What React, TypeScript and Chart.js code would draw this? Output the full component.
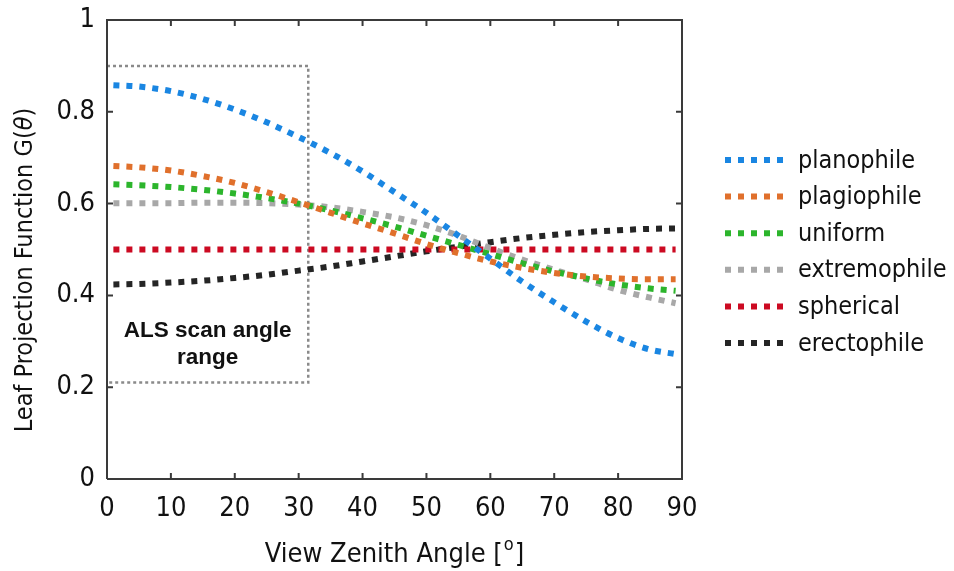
import { useEffect, useRef } from 'react';
import { Chart, registerables } from 'chart.js';

Chart.register(...registerables);

// View zenith angles (degrees) at which G(θ) is sampled
const ANGLES = [1, 5, 10, 15, 20, 25, 30, 35, 40, 45, 50, 55, 60, 65, 70, 75, 80, 85, 89];

// Leaf projection function per leaf angle distribution
const PLANOPHILE = [0.858, 0.855, 0.845, 0.828, 0.805, 0.777, 0.745, 0.71, 0.67, 0.625, 0.58, 0.53, 0.48, 0.43, 0.385, 0.343, 0.307, 0.282, 0.272];
const PLAGIOPHILE = [0.682, 0.679, 0.672, 0.66, 0.645, 0.625, 0.603, 0.58, 0.557, 0.535, 0.512, 0.492, 0.474, 0.46, 0.449, 0.441, 0.437, 0.435, 0.435];
const UNIFORM = [0.642, 0.64, 0.636, 0.63, 0.622, 0.612, 0.6, 0.585, 0.568, 0.55, 0.53, 0.51, 0.49, 0.47, 0.452, 0.437, 0.424, 0.415, 0.41];
const EXTREMOPHILE = [0.601, 0.601, 0.601, 0.602, 0.602, 0.601, 0.598, 0.592, 0.582, 0.57, 0.553, 0.53, 0.503, 0.478, 0.456, 0.435, 0.412, 0.395, 0.383];
const SPHERICAL = [0.5, 0.5, 0.5, 0.5, 0.5, 0.5, 0.5, 0.5, 0.5, 0.5, 0.5, 0.5, 0.5, 0.5, 0.5, 0.5, 0.5, 0.5, 0.5];
const ERECTOPHILE = [0.424, 0.425, 0.428, 0.432, 0.438, 0.445, 0.454, 0.463, 0.474, 0.485, 0.496, 0.506, 0.516, 0.525, 0.532, 0.538, 0.542, 0.545, 0.546];

const SERIES_NAMES = ['planophile', 'plagiophile', 'uniform', 'extremophile', 'spherical', 'erectophile'];
const SERIES_VALUES = [PLANOPHILE, PLAGIOPHILE, UNIFORM, EXTREMOPHILE, SPHERICAL, ERECTOPHILE];
const SERIES_COLORS = ['#1a86e2', '#e0702c', '#2cb52c', '#a8a8a8', '#cc0a22', '#252525'];

// Axis ticks
const X_TICKS = [0, 10, 20, 30, 40, 50, 60, 70, 80, 90];
const Y_TICKS = [0, 0.2, 0.4, 0.6, 0.8, 1];

// Typical airborne laser scanning angle window
const SCAN_RANGE_X = [0, 31.5];
const SCAN_RANGE_Y = [0.21, 0.9];
const SCAN_LABEL = ['ALS scan angle', 'range'];

const X_TITLE = 'View Zenith Angle [';
const Y_TITLE = 'Leaf Projection Function G(';

const FONT = '"DejaVu Sans Condensed", "DejaVu Sans", sans-serif';
const AXIS_COLOR = '#3a3a3a';

const decorations = {
  id: 'decorations',
  beforeDatasetsDraw(chart: any) {
    const { ctx, scales } = chart;
    const x = scales.x;
    const y = scales.y;
    const x0 = x.getPixelForValue(SCAN_RANGE_X[0]);
    const x1 = x.getPixelForValue(SCAN_RANGE_X[1]);
    const y0 = y.getPixelForValue(SCAN_RANGE_Y[0]);
    const y1 = y.getPixelForValue(SCAN_RANGE_Y[1]);
    ctx.save();
    ctx.strokeStyle = '#8a8a8a';
    ctx.lineWidth = 2.5;
    ctx.setLineDash([3, 3]);
    ctx.beginPath();
    ctx.moveTo(x0, y1);
    ctx.lineTo(x1, y1);
    ctx.lineTo(x1, y0);
    ctx.lineTo(x0, y0);
    ctx.stroke();
    ctx.setLineDash([]);
    ctx.fillStyle = '#111';
    ctx.font = `bold 22.5px "Liberation Sans", Arial, sans-serif`;
    ctx.textAlign = 'center';
    ctx.textBaseline = 'alphabetic';
    const cx = (x0 + x1) / 2;
    ctx.fillText(SCAN_LABEL[0], cx, 337);
    ctx.fillText(SCAN_LABEL[1], cx, 364);
    ctx.restore();
  },
  afterDraw(chart: any) {
    const { ctx, chartArea, scales } = chart;
    const { left, right, top, bottom } = chartArea;
    ctx.save();
    // box frame
    ctx.strokeStyle = AXIS_COLOR;
    ctx.lineWidth = 2;
    ctx.beginPath();
    ctx.moveTo(left, bottom);
    ctx.lineTo(left, top);
    ctx.lineTo(right, top);
    ctx.lineTo(right, bottom);
    ctx.lineTo(left, bottom);
    ctx.stroke();
    // inward tick marks
    const len = 6;
    ctx.beginPath();
    X_TICKS.forEach((v) => {
      const px = scales.x.getPixelForValue(v);
      ctx.moveTo(px, bottom);
      ctx.lineTo(px, bottom - len);
      ctx.moveTo(px, top);
      ctx.lineTo(px, top + len);
    });
    Y_TICKS.forEach((v) => {
      const py = scales.y.getPixelForValue(v);
      ctx.moveTo(left, py);
      ctx.lineTo(left + len, py);
      ctx.moveTo(right, py);
      ctx.lineTo(right - len, py);
    });
    ctx.stroke();

    // legend
    const lx = right + 43;
    ctx.font = `25px ${FONT}`;
    ctx.textBaseline = 'middle';
    ctx.textAlign = 'left';
    SERIES_NAMES.forEach((name, i) => {
      const ly = top + 140 + i * 36.6;
      ctx.strokeStyle = SERIES_COLORS[i];
      ctx.lineWidth = 6;
      ctx.setLineDash([6, 7]);
      ctx.beginPath();
      ctx.moveTo(lx, ly);
      ctx.lineTo(lx + 62, ly);
      ctx.stroke();
      ctx.setLineDash([]);
      ctx.fillStyle = '#111';
      ctx.fillText(name, lx + 73, ly + 1);
    });

    // x axis title with superscript degree mark
    ctx.fillStyle = '#111';
    ctx.textBaseline = 'alphabetic';
    const mainFont = `27px ${FONT}`;
    const supFont = `18px ${FONT}`;
    ctx.font = mainFont;
    const wMain = ctx.measureText(X_TITLE).width;
    const wClose = ctx.measureText(']').width;
    ctx.font = supFont;
    const wSup = ctx.measureText('o').width;
    const total = wMain + wSup + wClose + 2;
    let tx = (left + right) / 2 - total / 2;
    const baseY = 562;
    ctx.font = mainFont;
    ctx.fillText(X_TITLE, tx, baseY);
    tx += wMain + 1;
    ctx.font = supFont;
    ctx.fillText('o', tx, baseY - 12);
    tx += wSup + 1;
    ctx.font = mainFont;
    ctx.fillText(']', tx, baseY);

    // y axis title, rotated, with italic theta
    ctx.translate(32, 270);
    ctx.rotate(-Math.PI / 2);
    const yFont = `25px ${FONT}`;
    const thetaFont = `italic 25px ${FONT}`;
    ctx.font = yFont;
    const wY = ctx.measureText(Y_TITLE).width;
    const wP = ctx.measureText(')').width;
    ctx.font = thetaFont;
    const wT = ctx.measureText('θ').width;
    let ty = -(wY + wT + wP) / 2;
    ctx.font = yFont;
    ctx.fillText(Y_TITLE, ty, 0);
    ty += wY;
    ctx.font = thetaFont;
    ctx.fillText('θ', ty, 0);
    ty += wT;
    ctx.font = yFont;
    ctx.fillText(')', ty, 0);
    ctx.restore();
  },
};

export default function App() {
  const canvasRef = useRef<HTMLCanvasElement | null>(null);

  useEffect(() => {
    const canvas = canvasRef.current;
    if (!canvas) return;
    const chart = new Chart(canvas, {
      type: 'line',
      data: {
        datasets: SERIES_NAMES.map((name, i) => ({
          label: name,
          data: ANGLES.map((a, j) => ({ x: a, y: SERIES_VALUES[i][j] })),
          borderColor: SERIES_COLORS[i],
          backgroundColor: SERIES_COLORS[i],
          borderWidth: 6,
          borderDash: [6, 7],
          borderCapStyle: 'butt',
          pointRadius: 0,
          cubicInterpolationMode: 'monotone',
          fill: false,
        })),
      },
      options: {
        animation: false,
        responsive: false,
        devicePixelRatio: 1,
        layout: { padding: { left: 0, top: 20, right: 272, bottom: 0 } },
        plugins: {
          legend: { display: false },
          tooltip: { enabled: false },
        },
        scales: {
          x: {
            type: 'linear',
            min: 0,
            max: 90,
            afterBuildTicks: (scale: any) => {
              scale.ticks = X_TICKS.map((v) => ({ value: v }));
            },
            afterFit: (scale: any) => {
              scale.height = 92;
              scale.paddingLeft = 0;
              scale.paddingRight = 0;
            },
            grid: { display: false, drawTicks: false },
            border: { display: false },
            ticks: {
              padding: 14,
              color: '#111',
              font: { family: FONT, size: 27 },
              maxRotation: 0,
              callback: (v: any) => String(v),
            },
          },
          y: {
            type: 'linear',
            min: 0,
            max: 1,
            afterBuildTicks: (scale: any) => {
              scale.ticks = Y_TICKS.map((v) => ({ value: v }));
            },
            afterFit: (scale: any) => {
              scale.width = 107;
              scale.paddingTop = 0;
              scale.paddingBottom = 0;
            },
            grid: { display: false, drawTicks: false },
            border: { display: false },
            ticks: {
              padding: 12,
              color: '#111',
              font: { family: FONT, size: 27 },
              callback: (v: any) => (v === 0 || v === 1 ? String(v) : Number(v).toFixed(1)),
            },
          },
        },
      },
      plugins: [decorations],
    });
    return () => chart.destroy();
  }, []);

  return (
    <div style={{ position: 'fixed', left: 0, top: 0, width: 954, height: 571, background: '#fff' }}>
      <canvas ref={canvasRef} width={954} height={571} />
    </div>
  );
}
